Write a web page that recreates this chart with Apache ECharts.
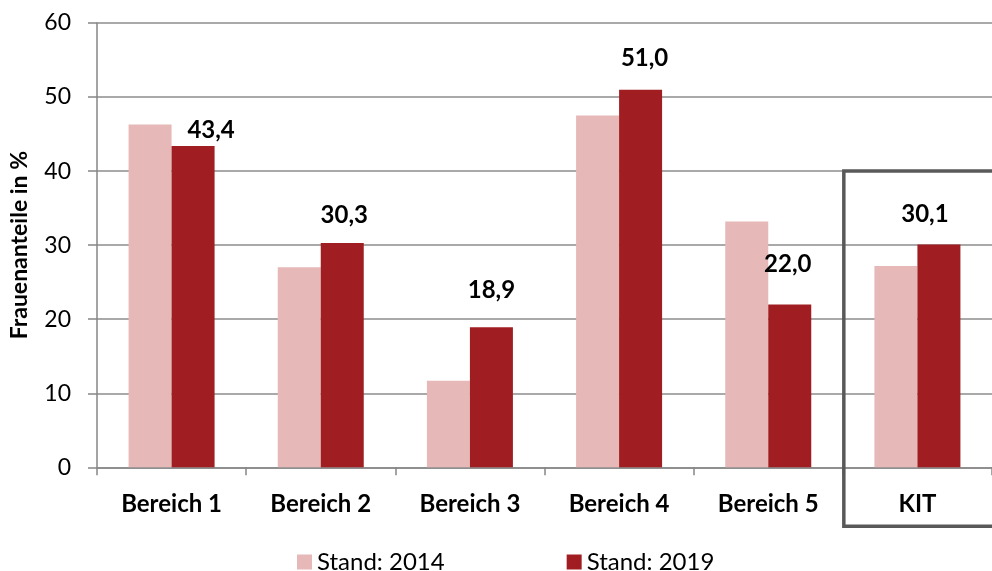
<!DOCTYPE html>
<html>
<head>
<meta charset="utf-8">
<script src="https://cdn.jsdelivr.net/npm/echarts@6/dist/echarts.min.js"></script>
<style>
html,body{margin:0;padding:0;background:#fff;}
#chart{width:992px;height:571px;}
</style>
</head>
<body>
<div id="chart"></div>
<script>
// Frauenanteile je Bereich, Stand 2014 und 2019
var categories = ['Bereich 1', 'Bereich 2', 'Bereich 3', 'Bereich 4', 'Bereich 5', 'KIT'];
var stand2014 = [46.3, 27.0, 11.7, 47.5, 33.2, 27.2];
var stand2019 = [43.4, 30.3, 18.9, 51.0, 22.0, 30.1];
var yTicks = [0, 10, 20, 30, 40, 50, 60];

// Verschiebung der Wertelabels [dx, dy] (wie im Original manuell versetzt)
var labelOffsets = [[18, 0], [2, -12], [0, -21], [4, -15], [-2, -24], [-14, -14]];

var FONT = 'Lato';
var chart = echarts.init(document.getElementById('chart'));

function fmt(v){ return v.toFixed(1).replace('.', ','); }

var option = {
  animation: false,
  textStyle: {fontFamily: FONT},
  grid: {left: 97, top: 23, width: 900, height: 444.3},
  legend: {
    left: 292, top: 545,
    itemWidth: 15, itemHeight: 15, itemGap: 122,
    icon: 'rect',
    textStyle: {fontFamily: FONT, fontSize: 24, color: '#000'},
    data: ['Stand: 2014', 'Stand: 2019']
  },
  xAxis: {
    type: 'category',
    data: categories,
    axisLine: {lineStyle: {color: '#868686', width: 1.5}},
    axisTick: {show: true, length: 8, lineStyle: {color: '#868686', width: 1.5}},
    axisLabel: {fontFamily: FONT, fontSize: 24, fontWeight: 'bold', color: '#000', margin: 25}
  },
  yAxis: {
    type: 'value',
    min: yTicks[0], max: yTicks[yTicks.length - 1], interval: 10,
    name: 'Frauenanteile in %',
    nameLocation: 'middle',
    nameGap: 66,
    nameTextStyle: {fontFamily: FONT, fontSize: 23, fontWeight: 'bold', color: '#000'},
    axisLine: {show: true, lineStyle: {color: '#868686', width: 1.5}},
    axisTick: {show: true, length: 9, lineStyle: {color: '#868686', width: 1.5}},
    splitLine: {lineStyle: {color: '#8c8c8c', width: 1.5}},
    axisLabel: {fontFamily: FONT, fontSize: 23, color: '#000', margin: 26}
  },
  series: [
    {
      name: 'Stand: 2014',
      type: 'bar',
      barWidth: 43,
      barGap: '0%',
      itemStyle: {color: '#E6B8B7'},
      data: stand2014
    },
    {
      name: 'Stand: 2019',
      type: 'bar',
      barWidth: 43,
      barGap: '0%',
      itemStyle: {color: '#A01E21'},
      data: stand2019.map(function(v, i){
        return {value: v, label: {offset: labelOffsets[i]}};
      }),
      label: {
        show: true,
        position: 'top',
        distance: 4,
        fontFamily: FONT, fontSize: 24, fontWeight: 'bold', color: '#000',
        formatter: function(p){ return fmt(p.value); }
      }
    }
  ]
};
chart.setOption(option);

// Rahmen um KIT
var kitX = chart.convertToPixel({xAxisIndex: 0}, 'KIT');
var band = chart.convertToPixel({xAxisIndex: 0}, 'Bereich 2') - chart.convertToPixel({xAxisIndex: 0}, 'Bereich 1');
var boxTop = chart.convertToPixel({yAxisIndex: 0}, 40);
var axisY = chart.convertToPixel({yAxisIndex: 0}, 0);
chart.setOption({
  graphic: [{
    type: 'rect',
    z: 100,
    shape: {x: kitX - band / 2 + 1, y: boxTop, width: band + 20, height: axisY - boxTop + 59},
    style: {fill: 'none', stroke: '#595959', lineWidth: 3.5}
  }]
});
</script>
</body>
</html>
